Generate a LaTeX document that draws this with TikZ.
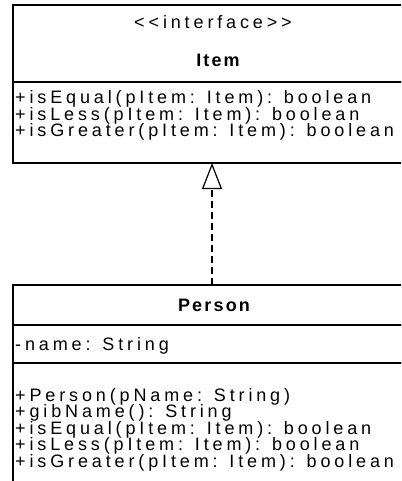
\documentclass[tikz,border=0pt]{standalone}
\usepackage{fontspec}
\usetikzlibrary{arrows.meta}
\newfontfamily\umlfont{Liberation Sans}[LetterSpace=21.5, Ligatures=TeXOff]
\newfontfamily\umlbold{Liberation Sans Bold}[LetterSpace=12, Ligatures=TeXOff]
\newcommand{\umlsize}{\fontsize{18bp}{16.5bp}\selectfont}

\begin{document}
\begin{tikzpicture}[x=1bp,y=-1bp,
  box/.style={draw, line width=1.3bp, inner sep=0pt, outer sep=0pt, minimum width=398bp, anchor=north west},
  txt/.style={font=\umlfont\umlsize, inner sep=0pt, anchor=base west},
  title/.style={font=\umlfont\umlsize, inner sep=0pt, anchor=base},
  realize/.style={line width=1.2bp, dash pattern=on 7bp off 4bp, -{Triangle[open,length=26bp,width=20bp]}}]

% Frame (boxes run past the right and bottom edge)
\useasboundingbox (0,0) rectangle (401,481);
\clip (0,0) rectangle (401,481);

% Interface Item
\node[box, minimum height=77bp] (itemHead) at (13,5) {};
\node[box, minimum height=81bp] (itemOps) at (13,82) {};
\node[title] (itemStereo) at (213,29) {<<interface>>};
\node[title, font=\umlbold\umlsize] (itemName) at (218,67) {Item};
\node[txt] (itemOpA) at (15,104) {+isEqual(pItem: Item): boolean};
\node[txt] (itemOpB) at (15,120.5) {+isLess(pItem: Item): boolean};
\node[txt] (itemOpC) at (15,137) {+isGreater(pItem: Item): boolean};

% Class Person
\node[box, minimum height=40bp] (personHead) at (13,285) {};
\node[box, minimum height=38bp] (personAttr) at (13,325) {};
\node[box, minimum height=130bp] (personOps) at (13,363) {};
\node[title, font=\umlbold\umlsize] (personName) at (214,311.7) {Person};
\node[txt] (personAttrA) at (15,350) {-name: String};
\node[txt] (personOpA) at (15,401) {+Person(pName: String)};
\node[txt] (personOpB) at (15,417.5) {+gibName(): String};
\node[txt] (personOpC) at (15,434) {+isEqual(pItem: Item): boolean};
\node[txt] (personOpD) at (15,450.5) {+isLess(pItem: Item): boolean};
\node[txt] (personOpE) at (15,467) {+isGreater(pItem: Item): boolean};

% Realization
\draw[realize] (personHead.north) -- (itemOps.south);

\end{tikzpicture}
\end{document}
